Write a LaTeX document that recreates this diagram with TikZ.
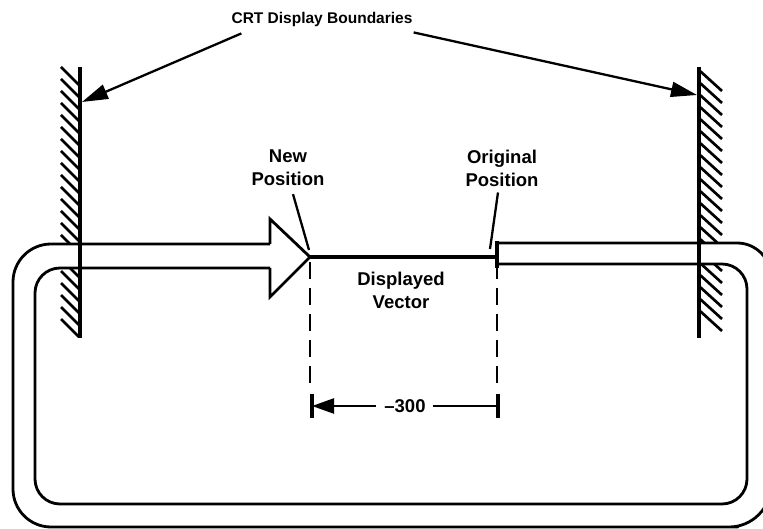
\documentclass[tikz,border=0pt]{standalone}
\usepackage{fontspec}
\setmainfont{Liberation Sans}
\usetikzlibrary{arrows.meta}
\begin{document}
\begin{tikzpicture}[x=1pt,y=-1pt,line join=round,
  loopline/.style={line width=2.8pt},
  wall/.style={line width=3.4pt},
  hatchline/.style={line width=2.7pt},
  vec/.style={line width=4pt},
  lbl/.style={font=\bfseries\fontsize{18.5}{23}\selectfont,align=center,inner sep=0pt},
  ptr/.style={line width=2.3pt,-{Triangle[length=26pt,width=15pt]}},
  dimarrow/.style={line width=2.4pt,-{Triangle[length=22pt,width=15pt]}},
  dashline/.style={line width=2.8pt,dash pattern=on 17pt off 9pt},
  ]
\useasboundingbox (0,0) rectangle (763,529);
\clip (0,0) rectangle (763,529);

% hatching of the walls
\foreach \y in {67,79,...,319} {\draw[hatchline] (61,\y) -- (79,\y+18);}
\foreach \y in {71,83,...,317} {\draw[hatchline] (700,\y) -- (722,\y+20);}
\fill[white] (56,245.5) rectangle (78.4,266.6);
\fill[white] (700.6,244.5) rectangle (728,262.6);

% walls
\coordinate (wlTop) at (80,67);
\coordinate (wlBot) at (80,338);
\coordinate (wrTop) at (699,67);
\coordinate (wrBot) at (699,338);
\draw[wall] (wlTop) -- (wlBot);
\draw[wall] (wrTop) -- (wrBot);

% loop (outer and inner lines)
\draw[loopline,rounded corners=38pt] (270,244) -- (13,244) -- (13,527) -- (700,527) [rounded corners=42pt] -- (771,527) [rounded corners=34pt] -- (771,243) [sharp corners] -- (497,243);
\draw[loopline,rounded corners=25pt] (270,268) -- (35,268) -- (35,504) -- (747,504) -- (747,264) [sharp corners] -- (497,264);

% hollow arrow head (new position)
\coordinate (tipN) at (310,257);
\coordinate (tipO) at (497,257);
\draw[loopline,line join=miter] (270,244) -- (270,219) -- (tipN) -- (270,297) -- (270,268);

% displayed vector and original position tick
\draw[vec] (tipN) -- (tipO);
\draw[line width=3.4pt] (497,241) -- (497,268);

% dashed extension lines
\coordinate (dL) at (310,262);
\coordinate (dR) at (497,262);
\coordinate (eL) at (310,386);
\coordinate (eR) at (497,386);
\draw[dashline] (dL) -- (eL);
\draw[dashline] (dR) -- (eR);

% dimension
\node[lbl] (dim) at (405,406) {\textendash 300};
\coordinate (barL) at (312,406);
\coordinate (barR) at (498,406);
\draw[line width=3.4pt] (312,394) -- (312,418);
\draw[line width=3.4pt] (498,394) -- (498,418);
\draw[dimarrow] ([xshift=-8pt]dim.west) -- (barL);
\draw[line width=2.4pt] ([xshift=7pt]dim.east) -- (barR);

% labels
\node[font=\bfseries\fontsize{15.5}{19}\selectfont,inner sep=0pt] (crt) at (322,19) {CRT Display Boundaries};
\coordinate (tipWL) at (82,102);
\coordinate (tipWR) at (697,95);
\draw[ptr] ([shift={(10,7)}]crt.south west) -- (tipWL);
\draw[ptr] ([shift={(1,6)}]crt.south east) -- (tipWR);

\node[lbl] (newpos) at (288,168) {New\\Position};
\node[lbl] (origpos) at (502,168) {Original\\Position};
\node[lbl] (disp) at (401,290) {Displayed\\Vector};
\coordinate (nptr) at (309,250);
\coordinate (optr) at (490,249);
\draw[line width=2.3pt] ([shift={(5,8)}]newpos.south) -- (nptr);
\draw[line width=2.3pt] ([shift={(-4,6)}]origpos.south) -- (optr);
\end{tikzpicture}
\end{document}
